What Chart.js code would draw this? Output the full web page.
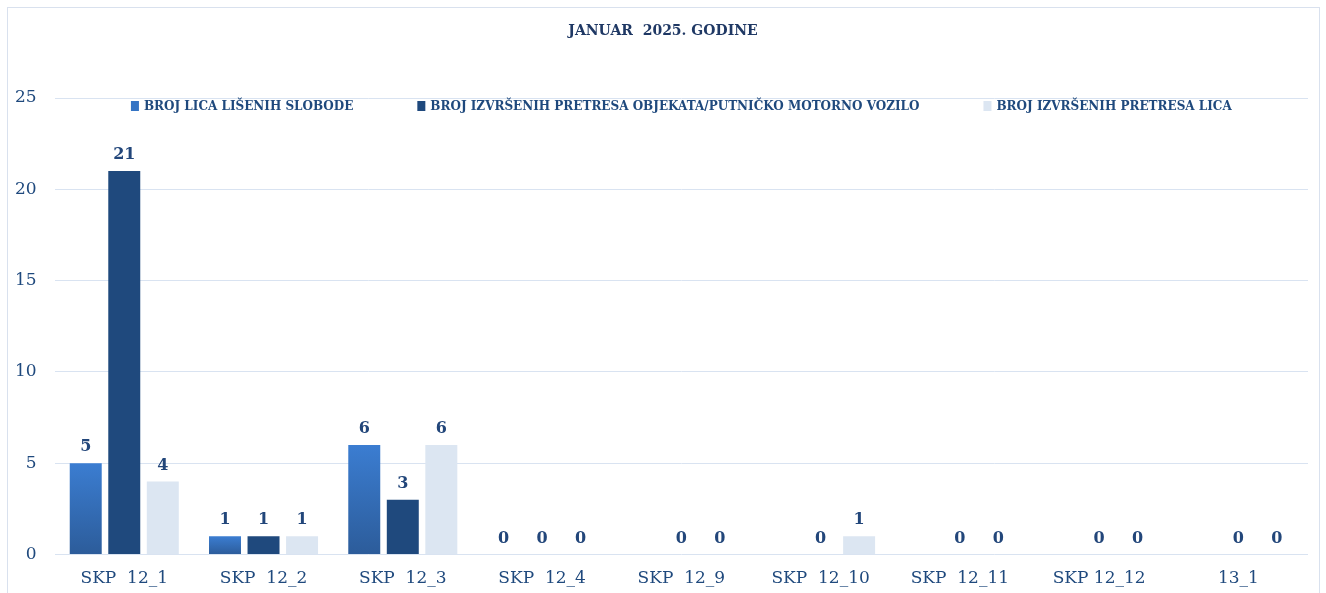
<!DOCTYPE html>
<html>
<head>
<meta charset="utf-8">
<script src="https://cdn.jsdelivr.net/npm/chart.js@4.4.1/dist/chart.umd.min.js"></script>
<style>
  html, body { margin: 0; padding: 0; background: #fff; }
  #wrap { position: relative; width: 1326px; height: 593px; }
  #frame { position: absolute; left: 7px; top: 7px; width: 1313px; height: 590px; border: 1px solid #d9e1ee; box-sizing: border-box; }
  canvas { position: absolute; left: 0; top: 0; }
</style>
</head>
<body>
<div id="wrap">
  <div id="frame"></div>
  <canvas id="chart" width="1326" height="593"></canvas>
</div>
<script>
// podaci
const categories = ['SKP  12_1', 'SKP  12_2', 'SKP  12_3', 'SKP  12_4', 'SKP  12_9', 'SKP  12_10', 'SKP  12_11', 'SKP 12_12', '13_1'];
const lisenihSlobode = [5, 1, 6, 0, null, null, null, null, null];
const pretresaObjekata = [21, 1, 3, 0, 0, 0, 0, 0, 0];
const pretresaLica = [4, 1, 6, 0, 0, 1, 0, 0, 0];
const seriesNames = ['BROJ LICA LIŠENIH SLOBODE', 'BROJ IZVRŠENIH PRETRESA OBJEKATA/PUTNIČKO MOTORNO VOZILO', 'BROJ IZVRŠENIH PRETRESA LICA'];
const yTicks = [0, 5, 10, 15, 20, 25];
const titleText = 'JANUAR  2025. GODINE';

const textColor = '#1f497d';
const serif = "'DejaVu Serif', 'Liberation Serif', serif";
const fills = ['#3574c4', '#1f497d', '#dce6f2'];

function blueGradient(ctx) {
  const chart = ctx.chart;
  if (!chart.chartArea || ctx.raw == null) return fills[0];
  const y = chart.scales.y;
  const top = y.getPixelForValue(ctx.raw);
  const bottom = y.getPixelForValue(0);
  if (bottom - top < 1) return fills[0];
  const g = chart.ctx.createLinearGradient(0, top, 0, bottom);
  g.addColorStop(0, '#3b7dd1');
  g.addColorStop(1, '#2c5c9a');
  return g;
}

// oznake vrijednosti iznad stubaca
const valueLabels = {
  id: 'valueLabels',
  afterDatasetsDraw(chart) {
    const c = chart.ctx;
    c.save();
    c.font = "bold 16px " + serif;
    c.fillStyle = '#22467a';
    c.textAlign = 'center';
    c.textBaseline = 'bottom';
    chart.data.datasets.forEach((ds, i) => {
      chart.getDatasetMeta(i).data.forEach((bar, j) => {
        const v = ds.data[j];
        if (v == null) return;
        c.fillText(String(v), bar.x, bar.y - 8);
      });
    });
    c.restore();
  }
};

// naslov centriran na cijelu sliku + legenda unutar grafikona
const innerLegend = {
  id: 'innerLegend',
  afterDraw(chart) {
    const c = chart.ctx;
    const area = chart.chartArea;
    c.save();
    c.font = "bold 14px " + serif;
    c.fillStyle = '#1f3864';
    c.textAlign = 'center';
    c.textBaseline = 'middle';
    c.fillText(titleText, chart.width / 2, 31);

    const gap = 64, box = 8, boxH = 10, textGap = 5;
    c.font = "bold 12px " + serif;
    const widths = seriesNames.map(n => box + textGap + c.measureText(n).width);
    const total = widths.reduce((a, b) => a + b, 0) + gap * (seriesNames.length - 1);
    let x = (area.left + area.right) / 2 - total / 2;
    const y = area.top + 8;
    c.textAlign = 'left';
    seriesNames.forEach((n, i) => {
      c.fillStyle = fills[i];
      c.fillRect(x, y - boxH / 2, box, boxH);
      c.fillStyle = textColor;
      c.fillText(n, x + box + textGap, y + 1);
      x += widths[i] + gap;
    });
    c.restore();
  }
};

new Chart(document.getElementById('chart'), {
  type: 'bar',
  data: {
    labels: categories,
    datasets: [
      { label: seriesNames[0], data: lisenihSlobode, backgroundColor: blueGradient },
      { label: seriesNames[1], data: pretresaObjekata, backgroundColor: fills[1] },
      { label: seriesNames[2], data: pretresaLica, backgroundColor: fills[2] }
    ]
  },
  options: {
    responsive: false,
    animation: false,
    categoryPercentage: 0.83,
    barPercentage: 0.83,
    layout: { padding: { left: -3, right: 18, top: 98, bottom: -10 } },
    scales: {
      x: {
        grid: { display: false, drawTicks: false },
        border: { display: false },
        ticks: { color: textColor, font: { family: serif, size: 17 }, padding: 14 }
      },
      y: {
        min: 0,
        max: 25,
        afterBuildTicks(axis) { axis.ticks = yTicks.map(v => ({ value: v })); },
        grid: { color: '#d9e3f1', lineWidth: 1, drawTicks: false },
        border: { display: false },
        ticks: { color: textColor, font: { family: serif, size: 17 }, padding: 18 }
      }
    },
    plugins: {
      title: { display: false },
      legend: { display: false },
      tooltip: { enabled: false }
    }
  },
  plugins: [valueLabels, innerLegend]
});
</script>
</body>
</html>
